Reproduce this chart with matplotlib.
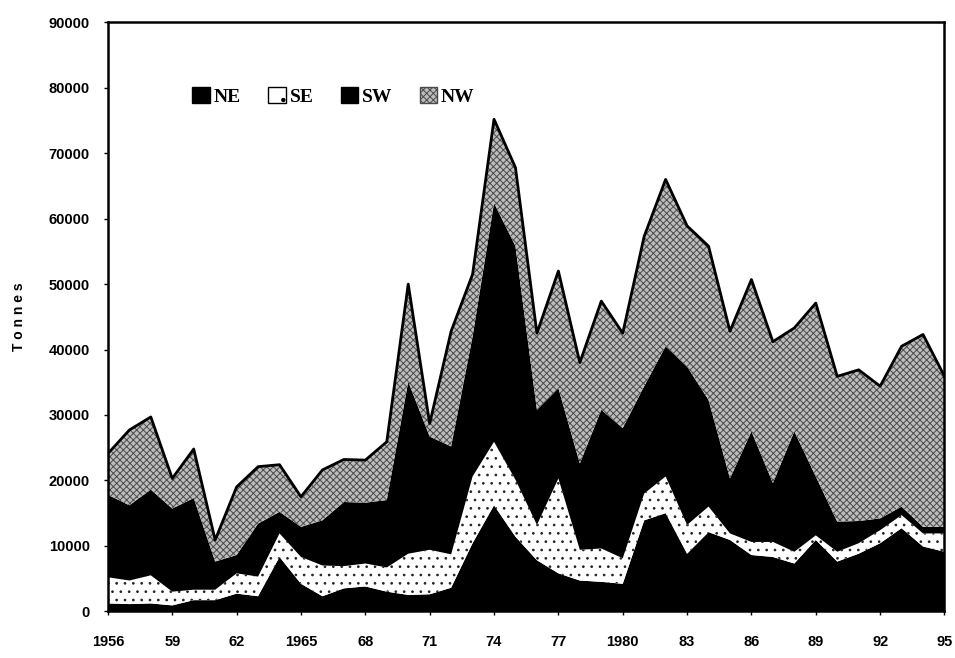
import numpy as np
import matplotlib.pyplot as plt
from matplotlib.patches import Patch

years = np.arange(1956, 1996)

# tonnes per region
ne = [1200, 1100, 1200, 900, 1700, 1700, 2700, 2300, 8300, 4200,
      2300, 3500, 3800, 3000, 2500, 2600, 3600, 10400, 16200, 11400,
      7800, 5800, 4700, 4500, 4200, 13900, 15000, 8800, 12100, 10900,
      8600, 8300, 7300, 10900, 7600, 8800, 10400, 12700, 9900, 9100]
se = [4000, 3600, 4300, 2100, 1600, 1600, 3100, 3000, 3600, 4100,
      4700, 3400, 3500, 3700, 6300, 6800, 5100, 10200, 9700, 8700,
      5400, 14500, 4700, 5100, 3900, 4100, 5600, 4400, 3900, 1000,
      2000, 2300, 1800, 700, 1500, 1600, 2000, 2000, 2000, 2800]
sw = [12600, 11500, 13100, 12700, 14000, 4300, 2800, 8100, 3300, 4600,
      6900, 9800, 9300, 10300, 26300, 17300, 16500, 21400, 36500, 35700,
      17600, 13800, 13200, 21200, 19900, 16400, 19900, 24200, 16300, 8400,
      16900, 9000, 18400, 9000, 4600, 3400, 1800, 1300, 1000, 1000]
nw = [6300, 11500, 11100, 4600, 7500, 3300, 10400, 8700, 7200, 4600,
      7700, 6500, 6500, 8900, 14900, 2000, 17600, 9500, 12800, 12000,
      11700, 17900, 15400, 16600, 14500, 22900, 25500, 21500, 23500, 22500,
      23200, 21600, 15800, 26500, 22200, 23100, 20200, 24500, 29400, 23000]

tick_years = [1956, 1959, 1962, 1965, 1968, 1971, 1974, 1977, 1980, 1983, 1986, 1989, 1992, 1995]
tick_labels = ['1956', '59', '62', '1965', '68', '71', '74', '77', '1980', '83', '86', '89', '92', '95']

plt.rcParams['hatch.linewidth'] = 0.7

fig = plt.figure(figsize=(9.55, 6.58), dpi=100)
ax = fig.add_axes([0.113, 0.071, 0.876, 0.895])

polys = ax.stackplot(years, ne, se, sw, nw,
                     colors=['black', 'white', 'black', '#bdbdbd'],
                     linewidth=0)
polys[1].set_hatch('..')
polys[1].set_edgecolor('#222222')
polys[3].set_hatch('xxxxx')
polys[3].set_edgecolor('#4a4a4a')

total = np.array(ne) + np.array(se) + np.array(sw) + np.array(nw)
ax.plot(years, total, color='black', linewidth=2)

ax.set_xlim(1956, 1995)
ax.set_ylim(0, 90000)
ax.set_xticks(tick_years)
ax.set_xticklabels(tick_labels)
ax.set_yticks(np.arange(0, 90001, 10000))
ax.tick_params(axis='x', length=3, width=1, pad=14)
ax.tick_params(axis='y', length=3, width=1, pad=10)
for lab in ax.get_xticklabels() + ax.get_yticklabels():
    lab.set_fontfamily('Liberation Sans')
    lab.set_fontweight('heavy')
    lab.set_fontsize(10.5)

for sp in ax.spines.values():
    sp.set_linewidth(1.8)

ax.set_ylabel('T o n n e s', fontfamily='Liberation Sans', fontweight='bold',
              fontsize=10, labelpad=16)

handles = [Patch(facecolor='black', edgecolor='black'),
           Patch(facecolor='white', edgecolor='black', hatch='.'),
           Patch(facecolor='black', edgecolor='black'),
           Patch(facecolor='#bdbdbd', edgecolor='#4a4a4a', hatch='xxxxx')]
ax.legend(handles, ['NE', 'SE', 'SW', 'NW'], loc='upper left',
          bbox_to_anchor=(0.08, 0.92), ncol=4, frameon=False,
          handlelength=0.9, handleheight=0.9, handletextpad=0.2, columnspacing=1.4,
          prop={'family': 'Liberation Serif', 'weight': 'bold', 'size': 14})

fig.savefig('out.png', dpi=100)
